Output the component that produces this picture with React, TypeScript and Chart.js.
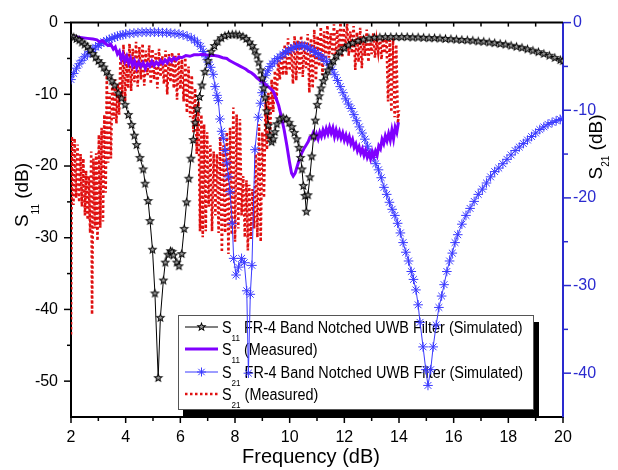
import React, { useEffect, useRef } from 'react';
import { Chart, registerables } from 'chart.js';

Chart.register(...registerables);

const FONT = "'Liberation Sans', Arial, sans-serif";
const AXIS_BLUE = '#2a2acf';
const S11_SIM_COLOR = '#000000';
const S11_MEAS_COLOR = '#8000ff';
const S21_SIM_COLOR = '#3a3aff';
const S21_MEAS_COLOR = '#e01010';

// ---- axis ticks ----
const xTicks = [2, 4, 6, 8, 10, 12, 14, 16, 18, 20];
const xMinorTicks = [3, 5, 7, 9, 11, 13, 15, 17, 19];
const s11Ticks = [0, -10, -20, -30, -40, -50];
const s11MinorTicks = [-5, -15, -25, -35, -45];
const s21Ticks = [0, -10, -20, -30, -40];
const s21MinorTicks = [-5, -15, -25, -35];

// ---- S11 simulated (left axis) ----
const s11SimFreq = [
  2.0, 2.1, 2.2, 2.3, 2.4, 2.5, 2.6, 2.7, 2.8, 2.9, 3.0, 3.1, 3.2, 3.3, 3.4, 3.5, 3.6, 3.73, 3.85, 3.98,
  4.1, 4.22, 4.32, 4.4, 4.52, 4.64, 4.71, 4.82, 4.89, 4.98, 5.07, 5.19, 5.27, 5.38, 5.45, 5.55, 5.64, 5.7, 5.75, 5.87,
  5.95, 6.05, 6.14, 6.23, 6.31, 6.39, 6.47, 6.54, 6.62, 6.7, 6.79, 6.9, 7.01, 7.13, 7.25, 7.37, 7.5, 7.63, 7.76, 7.9,
  8.03, 8.16, 8.29, 8.41, 8.53, 8.63, 8.72, 8.8, 8.87, 8.94, 9.0, 9.05, 9.1, 9.16, 9.22, 9.28, 9.34, 9.4, 9.46, 9.53,
  9.64, 9.76, 9.88, 9.98, 10.08, 10.17, 10.26, 10.34, 10.4, 10.45, 10.5, 10.56, 10.61, 10.67, 10.74, 10.81, 10.88, 10.94, 11.01, 11.08,
  11.15, 11.23, 11.31, 11.4, 11.5, 11.6, 11.72, 11.85, 12.0, 12.15, 12.3, 12.5, 12.7, 12.9, 13.1, 13.3, 13.5, 13.7, 13.9, 14.1,
  14.3, 14.5, 14.7, 14.9, 15.1, 15.3, 15.5, 15.7, 15.9, 16.1, 16.3, 16.5, 16.7, 16.9, 17.1, 17.3, 17.5, 17.7, 17.9, 18.1,
  18.3, 18.5, 18.7, 18.9, 19.1, 19.3, 19.5, 19.7, 19.9, 20.0,
];
const s11SimDb = [
  -1.8, -2.0, -2.2, -2.4, -2.7, -3.0, -3.3, -3.8, -4.3, -4.8, -5.3, -5.7, -6.2, -6.8, -7.4, -8.1, -8.7, -9.8, -10.5, -11.4,
  -12.8, -14.2, -15.7, -17.0, -18.8, -20.4, -22.4, -24.8, -27.6, -31.6, -37.7, -49.5, -41.1, -35.9, -33.4, -32.3, -31.8, -31.9, -32.4, -33.4,
  -33.9, -32.2, -28.7, -25.0, -21.7, -18.9, -16.3, -13.9, -12.0, -10.3, -8.7, -6.8, -5.3, -4.0, -3.2, -2.6, -2.1, -1.8, -1.65, -1.6,
  -1.6, -1.7, -1.9, -2.2, -2.7, -3.2, -3.8, -4.5, -5.5, -6.6, -7.7, -9.1, -10.4, -12.3, -14.3, -15.7, -16.6, -16.2, -15.2, -14.1,
  -13.4, -13.2, -13.4, -13.9, -14.5, -15.3, -16.2, -17.4, -18.8, -20.4, -22.7, -24.1, -26.3, -24.0, -21.5, -18.6, -15.8, -13.6, -11.4, -10.2,
  -9.1, -8.1, -7.3, -6.6, -5.9, -5.3, -4.6, -4.0, -3.5, -3.1, -2.8, -2.5, -2.3, -2.15, -2.05, -2.0, -1.95, -1.95, -1.95, -1.95,
  -1.95, -2.0, -2.0, -2.05, -2.1, -2.1, -2.15, -2.2, -2.25, -2.3, -2.35, -2.4, -2.45, -2.55, -2.6, -2.7, -2.8, -2.9, -3.0, -3.15,
  -3.3, -3.45, -3.65, -3.85, -4.05, -4.3, -4.55, -4.85, -5.15, -5.3,
];

// ---- S11 measured (left axis) ----
const s11MeasFreq = [
  2.0, 2.2, 2.4, 2.6, 2.8, 2.95, 3.05, 3.15, 3.25, 3.35, 3.45, 3.55, 3.62, 3.7, 3.77, 3.84, 3.9, 3.97, 4.04, 4.11,
  4.18, 4.25, 4.32, 4.4, 4.48, 4.56, 4.64, 4.72, 4.8, 4.88, 4.96, 5.04, 5.12, 5.2, 5.28, 5.36, 5.44, 5.52, 5.6, 5.68,
  5.76, 5.85, 5.95, 6.05, 6.2, 6.35, 6.5, 6.65, 6.8, 6.95, 7.1, 7.25, 7.4, 7.55, 7.7, 7.8, 7.9, 8.0, 8.1, 8.2,
  8.3, 8.4, 8.5, 8.6, 8.7, 8.8, 8.9, 9.0, 9.1, 9.2, 9.3, 9.4, 9.5, 9.6, 9.7, 9.8, 9.9, 10.0, 10.07, 10.13,
  10.2, 10.28, 10.36, 10.44, 10.52, 10.6, 10.68, 10.74, 10.8, 10.86, 10.92, 10.98, 11.04, 11.1, 11.16, 11.22, 11.28, 11.34, 11.4, 11.46,
  11.52, 11.58, 11.64, 11.7, 11.76, 11.82, 11.88, 11.94, 12.0, 12.06, 12.12, 12.18, 12.24, 12.3, 12.36, 12.42, 12.48, 12.54, 12.6, 12.66,
  12.72, 12.78, 12.84, 12.9, 12.96, 13.02, 13.08, 13.14, 13.2, 13.26, 13.32, 13.38, 13.44, 13.5, 13.56, 13.62, 13.68, 13.74, 13.8, 13.86,
  13.92, 13.98,
];
const s11MeasDb = [
  -1.9, -2.0, -2.1, -2.2, -2.3, -2.4, -2.7, -2.5, -2.9, -3.2, -3.0, -3.7, -3.4, -4.4, -4.0, -5.1, -4.4, -5.4, -4.7, -5.7,
  -5.0, -6.0, -5.3, -6.3, -5.5, -6.1, -5.6, -6.4, -5.7, -6.1, -5.4, -6.0, -5.5, -5.9, -5.3, -5.7, -5.2, -5.6, -5.0, -5.4,
  -4.9, -5.2, -4.8, -4.9, -4.6, -4.7, -4.5, -4.5, -4.4, -4.5, -4.6, -4.6, -4.7, -4.9, -5.0, -5.3, -5.5, -5.7, -5.9, -6.1,
  -6.3, -6.5, -6.8, -7.0, -7.3, -7.7, -8.0, -8.3, -8.6, -8.9, -9.2, -9.6, -10.5, -11.6, -13.2, -15.0, -17.2, -19.6, -21.0, -21.4,
  -21.0, -20.0, -19.0, -18.2, -17.6, -17.1, -16.6, -16.0, -16.0, -15.4, -16.1, -15.5, -16.2, -15.3, -15.9, -15.0, -15.7, -14.8, -15.5, -14.6,
  -15.4, -14.7, -15.9, -15.0, -15.9, -15.2, -16.1, -15.4, -16.4, -15.7, -16.6, -15.9, -16.9, -16.3, -17.4, -16.9, -17.9, -17.3, -18.2, -17.6,
  -18.5, -17.8, -18.8, -18.2, -19.0, -18.0, -18.7, -17.9, -18.5, -17.2, -17.6, -16.3, -16.9, -15.8, -16.5, -15.5, -16.4, -15.0, -16.2, -14.6,
  -15.3, -13.9,
];

// ---- S21 simulated (right axis) ----
const s21SimFreq = [
  2.0, 2.1, 2.2, 2.3, 2.4, 2.5, 2.6, 2.7, 2.8, 2.9, 3.0, 3.1, 3.2, 3.3, 3.4, 3.5, 3.6, 3.7, 3.8, 3.9,
  4.0, 4.15, 4.3, 4.45, 4.6, 4.75, 4.9, 5.05, 5.2, 5.35, 5.5, 5.65, 5.8, 5.95, 6.1, 6.25, 6.4, 6.52, 6.63, 6.74,
  6.84, 6.93, 7.02, 7.11, 7.2, 7.27, 7.34, 7.39, 7.45, 7.51, 7.57, 7.64, 7.7, 7.76, 7.82, 7.9, 7.95, 8.04, 8.13, 8.24,
  8.34, 8.43, 8.49, 8.56, 8.62, 8.73, 8.85, 8.93, 8.99, 9.05, 9.12, 9.2, 9.28, 9.36, 9.45, 9.55, 9.65, 9.75, 9.85, 9.95,
  10.05, 10.15, 10.25, 10.35, 10.45, 10.55, 10.65, 10.75, 10.86, 10.95, 11.05, 11.15, 11.25, 11.35, 11.45, 11.55, 11.65, 11.75, 11.85, 11.95,
  12.05, 12.15, 12.25, 12.35, 12.45, 12.55, 12.65, 12.75, 12.85, 12.95, 13.05, 13.15, 13.25, 13.35, 13.45, 13.55, 13.65, 13.75, 13.85, 13.95,
  14.05, 14.15, 14.25, 14.35, 14.45, 14.53, 14.62, 14.7, 14.77, 14.88, 14.98, 15.06, 15.16, 15.25, 15.36, 15.46, 15.56, 15.65, 15.75, 15.85,
  15.95, 16.05, 16.15, 16.3, 16.45, 16.6, 16.75, 16.9, 17.05, 17.2, 17.35, 17.5, 17.65, 17.8, 17.95, 18.1, 18.25, 18.4, 18.55, 18.7,
  18.85, 19.0, 19.15, 19.3, 19.45, 19.6, 19.75, 19.9, 20.0,
];
const s21SimDb = [
  -6.5, -5.8, -5.2, -4.7, -4.3, -3.9, -3.6, -3.3, -3.1, -2.8, -2.6, -2.4, -2.2, -2.05, -1.9, -1.8, -1.65, -1.55, -1.45, -1.4,
  -1.3, -1.25, -1.2, -1.15, -1.1, -1.1, -1.1, -1.1, -1.1, -1.15, -1.15, -1.2, -1.25, -1.3, -1.4, -1.55, -1.75, -2.0, -2.3, -2.7,
  -3.3, -3.9, -4.5, -5.1, -5.9, -7.3, -8.3, -8.9, -11.0, -12.4, -13.2, -14.6, -16.0, -17.6, -19.3, -22.9, -26.9, -28.8, -27.9, -26.9,
  -27.4, -30.6, -40.0, -31.0, -27.7, -14.5, -10.8, -9.2, -8.0, -7.0, -6.0, -5.5, -5.0, -4.7, -4.4, -4.1, -3.9, -3.6, -3.4, -3.2,
  -3.0, -2.85, -2.7, -2.65, -2.6, -2.7, -2.8, -3.0, -3.2, -3.4, -3.65, -3.9, -4.15, -4.45, -4.85, -5.35, -5.95, -6.6, -7.3, -8.0,
  -8.7, -9.3, -9.8, -10.5, -11.2, -11.9, -12.6, -13.3, -14.1, -14.9, -15.4, -16.1, -16.8, -17.7, -18.8, -19.6, -20.5, -21.3, -22.0, -22.9,
  -24.0, -25.1, -26.2, -27.2, -28.4, -29.3, -30.5, -32.2, -34.2, -37.0, -39.6, -41.4, -39.6, -37.0, -34.5, -32.5, -31.2, -29.9, -28.4, -27.2,
  -26.3, -25.1, -24.2, -23.0, -22.0, -21.2, -20.4, -19.6, -19.0, -18.3, -17.6, -17.0, -16.6, -16.1, -15.6, -15.1, -14.6, -14.2, -13.8, -13.4,
  -13.0, -12.6, -12.2, -11.9, -11.6, -11.4, -11.2, -11.05, -10.95,
];

// ---- S21 measured (right axis): ripple peaks and troughs ----
const s21MeasFreq = [
  2.0, 2.03, 2.09, 2.13, 2.19, 2.24, 2.3, 2.35, 2.4, 2.45, 2.51, 2.55, 2.61, 2.65, 2.7, 2.74, 2.77, 2.82, 2.88, 2.92,
  2.97, 3.02, 3.07, 3.12, 3.17, 3.22, 3.27, 3.31, 3.36, 3.41, 3.46, 3.51, 3.56, 3.61, 3.66, 3.71, 3.76, 3.81, 3.87, 3.92,
  3.98, 4.03, 4.09, 4.14, 4.2, 4.26, 4.32, 4.38, 4.44, 4.5, 4.56, 4.62, 4.68, 4.74, 4.8, 4.86, 4.92, 4.98, 5.04, 5.1,
  5.16, 5.22, 5.28, 5.34, 5.4, 5.46, 5.52, 5.58, 5.64, 5.7, 5.76, 5.82, 5.88, 5.94, 6.0, 6.06, 6.12, 6.18, 6.24, 6.3,
  6.36, 6.42, 6.48, 6.54, 6.6, 6.66, 6.72, 6.77, 6.82, 6.87, 6.93, 6.98, 7.04, 7.1, 7.16, 7.22, 7.28, 7.34, 7.4, 7.46,
  7.52, 7.58, 7.64, 7.7, 7.76, 7.82, 7.88, 7.94, 8.0, 8.06, 8.12, 8.18, 8.24, 8.3, 8.36, 8.42, 8.47, 8.52, 8.58, 8.64,
  8.7, 8.76, 8.82, 8.88, 8.94, 9.0, 9.06, 9.12, 9.17, 9.22, 9.28, 9.34, 9.4, 9.46, 9.52, 9.58, 9.64, 9.7, 9.76, 9.82,
  9.88, 9.94, 10.0, 10.06, 10.12, 10.18, 10.24, 10.3, 10.36, 10.42, 10.48, 10.54, 10.6, 10.66, 10.72, 10.78, 10.84, 10.9, 10.96, 11.02,
  11.08, 11.14, 11.2, 11.26, 11.32, 11.38, 11.44, 11.5, 11.56, 11.62, 11.68, 11.74, 11.8, 11.86, 11.92, 11.98, 12.04, 12.1, 12.16, 12.22,
  12.28, 12.34, 12.4, 12.46, 12.52, 12.58, 12.64, 12.7, 12.76, 12.82, 12.88, 12.94, 13.0, 13.06, 13.12, 13.18, 13.24, 13.3, 13.36, 13.42,
  13.48, 13.54, 13.6, 13.66, 13.72, 13.78, 13.84, 13.9, 13.96, 14.0,
];
const s21MeasDb = [
  -35.6, -13.0, -20.8, -13.2, -20.0, -13.9, -20.5, -15.0, -21.0, -15.5, -22.0, -16.9, -22.5, -17.5, -24.0, -14.7, -33.3, -15.5, -23.5, -14.9,
  -24.9, -12.8, -23.4, -12.0, -22.7, -10.5, -19.4, -6.0, -16.0, -8.0, -15.5, -7.0, -11.0, -6.5, -11.5, -7.0, -10.5, -3.8, -8.5, -2.5,
  -9.0, -3.5, -7.5, -2.4, -7.8, -3.0, -6.8, -2.2, -7.3, -2.8, -6.5, -2.4, -7.2, -3.2, -6.0, -2.6, -7.0, -3.0, -6.5, -3.5,
  -7.5, -3.0, -6.2, -3.8, -7.0, -3.2, -8.2, -3.6, -6.8, -3.4, -7.5, -3.8, -8.8, -3.5, -7.6, -4.2, -9.0, -4.0, -10.3, -5.0,
  -10.8, -6.0, -12.5, -7.5, -15.0, -9.0, -23.8, -10.5, -24.5, -11.6, -23.8, -12.5, -21.0, -14.0, -23.8, -14.7, -22.0, -15.0, -24.0, -13.0,
  -26.2, -14.0, -24.0, -12.5, -26.4, -12.0, -24.2, -9.7, -25.0, -10.5, -23.5, -11.0, -22.0, -17.5, -24.5, -18.0, -26.0, -18.5, -24.7, -19.0,
  -23.5, -15.0, -24.5, -11.6, -25.0, -12.5, -20.0, -9.0, -14.5, -8.0, -13.5, -6.5, -10.2, -5.5, -9.0, -4.3, -6.5, -3.5, -6.0, -2.5,
  -6.0, -1.8, -5.5, -2.5, -7.0, -1.5, -6.6, -2.0, -5.8, -1.5, -6.2, -2.2, -5.2, -1.3, -8.0, -1.8, -7.5, -0.8, -6.6, -1.5,
  -5.0, -0.5, -6.0, -1.0, -4.5, -0.3, -4.0, -1.2, -3.6, -0.2, -4.1, -0.8, -3.2, 0.0, -4.0, -0.6, -3.0, -0.1, -3.8, -1.0,
  -3.5, -0.4, -5.4, -1.1, -4.5, -0.6, -5.2, -1.5, -3.8, -0.8, -4.5, -1.9, -3.6, -1.2, -4.0, -2.0, -3.4, -1.5, -4.2, -1.8,
  -3.5, -1.6, -9.0, -2.0, -10.2, -1.8, -10.8, -2.5, -11.5, -10.0,
];

const toPoints = (xs: number[], ys: number[]) => xs.map((x, i) => ({ x, y: ys[i] }));

type Part = { t: string; size: number; dy: number };

function drawRich(ctx: CanvasRenderingContext2D, parts: Part[], sx: number) {
  let cx = 0;
  for (const p of parts) {
    ctx.font = `${p.size}px ${FONT}`;
    ctx.save();
    ctx.scale(sx, 1);
    ctx.fillText(p.t, cx / sx, p.dy);
    ctx.restore();
    cx += ctx.measureText(p.t).width * sx;
  }
  return cx;
}

function richWidth(ctx: CanvasRenderingContext2D, parts: Part[], sx: number) {
  let w = 0;
  for (const p of parts) {
    ctx.font = `${p.size}px ${FONT}`;
    w += ctx.measureText(p.t).width * sx;
  }
  return w;
}

function makeStar(): HTMLCanvasElement {
  const c = document.createElement('canvas');
  c.width = 11;
  c.height = 11;
  const g = c.getContext('2d')!;
  const path = (R: number, r: number) => {
    g.beginPath();
    for (let i = 0; i < 10; i++) {
      const a = -Math.PI / 2 + (i * Math.PI) / 5;
      const rad = i % 2 ? r : R;
      g.lineTo(5.5 + rad * Math.cos(a), 6 + rad * Math.sin(a));
    }
    g.closePath();
  };
  path(5.3, 2.2);
  g.fillStyle = '#000';
  g.fill();
  path(2.6, 1.1);
  g.fillStyle = '#9a9a9a';
  g.fill();
  return c;
}

function drawAsterisk(ctx: CanvasRenderingContext2D, x: number, y: number, r: number) {
  ctx.beginPath();
  for (let i = 0; i < 4; i++) {
    const a = (i * Math.PI) / 4;
    ctx.moveTo(x - r * Math.cos(a), y - r * Math.sin(a));
    ctx.lineTo(x + r * Math.cos(a), y + r * Math.sin(a));
  }
  ctx.stroke();
}

export default function App() {
  const ref = useRef<HTMLCanvasElement>(null);

  useEffect(() => {
    const canvas = ref.current!;
    const star = makeStar();

    const legendRows = [
      { parts: [{ t: 'S', size: 16, dy: 0 }, { t: '11', size: 9, dy: 8 }, { t: ' FR-4 Band Notched UWB Filter (Simulated)', size: 16, dy: 0 }], kind: 's11sim' },
      { parts: [{ t: 'S', size: 16, dy: 0 }, { t: '11', size: 9, dy: 8 }, { t: ' (Measured)', size: 16, dy: 0 }], kind: 's11meas' },
      { parts: [{ t: 'S', size: 16, dy: 0 }, { t: '21', size: 9, dy: 8 }, { t: ' FR-4 Band Notched UWB Filter (Simulated)', size: 16, dy: 0 }], kind: 's21sim' },
      { parts: [{ t: 'S', size: 16, dy: 0 }, { t: '21', size: 9, dy: 8 }, { t: ' (Measured)', size: 16, dy: 0 }], kind: 's21meas' },
    ];

    const decor = {
      id: 'decor',
      beforeDatasetsDraw(chart: any) {
        const ctx: CanvasRenderingContext2D = chart.ctx;
        ctx.save();
        // legend shadow + box
        ctx.fillStyle = '#000';
        ctx.fillRect(183, 322, 356, 94);
        ctx.fillStyle = '#fff';
        ctx.fillRect(178, 315, 355, 94);
        ctx.strokeStyle = '#555';
        ctx.lineWidth = 1;
        ctx.strokeRect(178.5, 315.5, 355, 94);
        const rowY = [327, 349, 372, 394];
        legendRows.forEach((row, i) => {
          const y = rowY[i];
          ctx.save();
          ctx.setLineDash([]);
          if (row.kind === 's11sim') {
            ctx.strokeStyle = S11_SIM_COLOR;
            ctx.lineWidth = 1;
            ctx.beginPath(); ctx.moveTo(185, y); ctx.lineTo(218, y); ctx.stroke();
            ctx.drawImage(star, 201.5 - 5.5, y - 6);
          } else if (row.kind === 's11meas') {
            ctx.strokeStyle = S11_MEAS_COLOR;
            ctx.lineWidth = 3;
            ctx.beginPath(); ctx.moveTo(185, y); ctx.lineTo(218, y); ctx.stroke();
          } else if (row.kind === 's21sim') {
            ctx.strokeStyle = S21_SIM_COLOR;
            ctx.lineWidth = 1;
            ctx.beginPath(); ctx.moveTo(185, y); ctx.lineTo(218, y); ctx.stroke();
            drawAsterisk(ctx, 201.5, y, 4.5);
          } else {
            ctx.strokeStyle = S21_MEAS_COLOR;
            ctx.lineWidth = 2.6;
            ctx.setLineDash([2.5, 2.5]);
            ctx.beginPath(); ctx.moveTo(185, y); ctx.lineTo(218, y); ctx.stroke();
          }
          ctx.restore();
          ctx.save();
          ctx.fillStyle = '#000';
          ctx.textBaseline = 'alphabetic';
          ctx.translate(222, y + 5.5);
          drawRich(ctx, row.parts, 0.9);
          ctx.restore();
        });
        ctx.restore();
      },
      afterDraw(chart: any) {
        const ctx: CanvasRenderingContext2D = chart.ctx;
        const a = chart.chartArea;
        const xs = chart.scales.x;
        const yl = chart.scales.y;
        const yr = chart.scales.y2;
        const line = (x1: number, y1: number, x2: number, y2: number) => {
          ctx.beginPath(); ctx.moveTo(x1, y1); ctx.lineTo(x2, y2); ctx.stroke();
        };
        ctx.save();
        ctx.strokeStyle = '#000';
        ctx.lineWidth = 2;
        line(a.left - 1, a.top, a.right, a.top);
        ctx.lineWidth = 1.5;
        xTicks.forEach((v) => { const p = xs.getPixelForValue(v); line(p, a.bottom, p, a.bottom + 6); });
        xMinorTicks.forEach((v) => { const p = xs.getPixelForValue(v); line(p, a.bottom, p, a.bottom + 4); });
        [...xTicks, ...xMinorTicks].forEach((v) => {
          const p = xs.getPixelForValue(v);
          if (p > a.left + 2 && p < a.right - 2) line(p, a.top, p, a.top + 4);
        });
        s11Ticks.forEach((v) => { const p = yl.getPixelForValue(v); line(a.left - 7, p, a.left, p); });
        s11MinorTicks.forEach((v) => { const p = yl.getPixelForValue(v); line(a.left - 4, p, a.left, p); });
        ctx.strokeStyle = AXIS_BLUE;
        s21Ticks.forEach((v) => { const p = yr.getPixelForValue(v); line(a.right, p, a.right + 8, p); });
        s21MinorTicks.forEach((v) => { const p = yr.getPixelForValue(v); line(a.right, p, a.right + 5, p); });

        // titles
        ctx.fillStyle = '#000';
        ctx.textBaseline = 'alphabetic';
        ctx.font = `20px ${FONT}`;
        ctx.textAlign = 'center';
        ctx.fillText('Frequency (dB)', 311, 463);
        ctx.textAlign = 'left';

        const leftParts: Part[] = [{ t: 'S', size: 19, dy: 0 }, { t: '11', size: 10, dy: 11 }, { t: ' (dB)', size: 19, dy: 0 }];
        const lw = richWidth(ctx, leftParts, 1);
        ctx.save();
        ctx.translate(28, 195 + lw / 2);
        ctx.rotate(-Math.PI / 2);
        drawRich(ctx, leftParts, 1);
        ctx.restore();

        const rightParts: Part[] = [{ t: 'S', size: 19, dy: 0 }, { t: '21', size: 10, dy: 7 }, { t: ' (dB)', size: 19, dy: 0 }];
        const rw = richWidth(ctx, rightParts, 1);
        ctx.save();
        ctx.translate(602, 147 + rw / 2);
        ctx.rotate(-Math.PI / 2);
        drawRich(ctx, rightParts, 1);
        ctx.restore();
        ctx.restore();
      },
    };

    const tickFont = { family: FONT, size: 16 };

    const chart = new Chart(canvas, {
      type: 'line',
      data: {
        datasets: [
          {
            label: 'S11 FR-4 Band Notched UWB Filter (Simulated)',
            data: toPoints(s11SimFreq, s11SimDb),
            yAxisID: 'y',
            borderColor: S11_SIM_COLOR,
            borderWidth: 1,
            pointStyle: star as any,
            pointRadius: 5,
            tension: 0,
          },
          {
            label: 'S11 (Measured)',
            data: toPoints(s11MeasFreq, s11MeasDb),
            yAxisID: 'y',
            borderColor: S11_MEAS_COLOR,
            borderWidth: 3,
            pointRadius: 0,
            tension: 0,
          },
          {
            label: 'S21 FR-4 Band Notched UWB Filter (Simulated)',
            data: toPoints(s21SimFreq, s21SimDb),
            yAxisID: 'y2',
            borderColor: S21_SIM_COLOR,
            borderWidth: 1,
            pointStyle: 'star',
            pointRadius: 4.8,
            pointBorderWidth: 1,
            pointBorderColor: S21_SIM_COLOR,
            pointBackgroundColor: S21_SIM_COLOR,
            tension: 0,
          },
          {
            label: 'S21 (Measured)',
            data: toPoints(s21MeasFreq, s21MeasDb),
            yAxisID: 'y2',
            borderColor: S21_MEAS_COLOR,
            borderWidth: 2.6,
            borderDash: [2.5, 2.5],
            pointRadius: 0,
            tension: 0,
          },
        ],
      },
      options: {
        responsive: false,
        animation: false,
        events: [],
        layout: { padding: { top: 13, left: 0, right: 0, bottom: 0 } },
        plugins: { legend: { display: false }, tooltip: { enabled: false } },
        scales: {
          x: {
            type: 'linear',
            min: 2,
            max: 20,
            afterBuildTicks: (s: any) => { s.ticks = xTicks.map((v) => ({ value: v })); },
            afterFit: (s: any) => { s.height = 53; },
            grid: { display: false, drawTicks: false },
            border: { display: true, color: '#000', width: 2 },
            ticks: { font: tickFont, color: '#000', padding: 11, maxRotation: 0, autoSkip: false },
          },
          y: {
            type: 'linear',
            position: 'left',
            min: -55,
            max: 0,
            afterBuildTicks: (s: any) => { s.ticks = s11Ticks.map((v) => ({ value: v })); },
            afterFit: (s: any) => { s.width = 71; },
            grid: { display: false, drawTicks: false },
            border: { display: true, color: '#000', width: 2 },
            ticks: { font: tickFont, color: '#000', padding: 13, autoSkip: false },
          },
          y2: {
            type: 'linear',
            position: 'right',
            min: -45,
            max: 0,
            afterBuildTicks: (s: any) => { s.ticks = s21Ticks.map((v) => ({ value: v })); },
            afterFit: (s: any) => { s.width = 55; },
            grid: { display: false, drawTicks: false },
            border: { display: true, color: AXIS_BLUE, width: 2 },
            ticks: { font: tickFont, color: AXIS_BLUE, padding: 10, autoSkip: false },
          },
        },
      } as any,
      plugins: [decor],
    });

    return () => chart.destroy();
  }, []);

  return (
    <div style={{ position: 'fixed', left: 0, top: 0, width: 618, height: 470, background: '#fff' }}>
      <canvas ref={ref} width={618} height={470} style={{ display: 'block' }} />
    </div>
  );
}
